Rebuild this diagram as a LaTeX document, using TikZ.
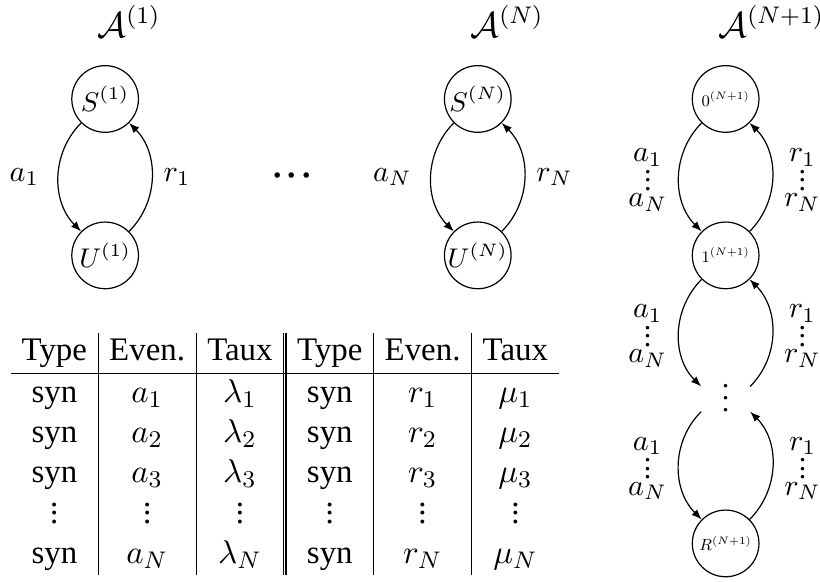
\documentclass[tikz,border=0pt]{standalone}
\usepackage[no-math]{fontspec}
\setmainfont{Liberation Serif}
\usepackage{amsfonts,amssymb}
\usepackage{graphicx}
\usepackage{tikz}
\usetikzlibrary{arrows.meta}
\newcommand{\pvdots}{\vbox{\baselineskip2.8pt\lineskiplimit0pt\hbox{.}\hbox{.}\hbox{.}}}
\newcommand{\evlist}[1]{$\begin{array}{@{}c@{}}#1_1\\[-2.5pt]\pvdots\\[-6.5pt]#1_N\end{array}$}

\begin{document}
\begin{tikzpicture}[>={Latex[length=3.4pt,width=2.6pt]},
  etat/.style={circle,draw,minimum size=0.78cm,inner sep=0pt,font=\small},
  titre/.style={anchor=base west,inner sep=0pt,font=\large}]
\useasboundingbox (0,0) rectangle (9.594,6.798);
% automate 1
\node [titre] (t1) at (1.135,6.365) {$\mathcal{A}^{(1)}$};
\node [etat] (s1) at (1.23,5.64) {$S^{(1)}$};
\node [etat] (u1) at (1.23,3.81) {$U^{(1)}$};
\draw [->] (s1) to [bend right=45] node [left=3pt] {$a_1$} (u1);
\draw [->] (u1) to [bend right=45] node [right=0.5pt] {$r_1$} (s1);
\node [font=\LARGE] (pts) at (3.416,4.727) {${\cdot}{\cdot}{\cdot}$};
% automate N
\node [titre] (tn) at (5.499,6.365) {$\mathcal{A}^{(N)}$};
\node [etat] (sn) at (5.59,5.64) {$S^{(N)}$};
\node [etat] (un) at (5.59,3.81) {$U^{(N)}$};
\draw [->] (sn) to [bend right=45] node [left=3pt] {$a_N$} (un);
\draw [->] (un) to [bend right=45] node [right=0.5pt] {$r_N$} (sn);
% automate N+1
\node [titre] (tm) at (8.401,6.365) {$\mathcal{A}^{(N+1)}$};
\node [etat] (e0) at (8.49,5.64) {\scalebox{0.6}{$0^{(N+1)}$}};
\node [etat] (e1) at (8.49,3.81) {\scalebox{0.6}{$1^{(N+1)}$}};
\node [inner sep=0pt,minimum width=0.56cm,text height=8pt,text depth=0pt] (ed) at (8.49,2.129) {$\vdots$};
\node [etat] (er) at (8.49,0.44) {\scalebox{0.6}{$R^{(N+1)}$}};
\draw [->] (e0) to [bend right=45] node [left=0.5pt] {\evlist{a}} (e1);
\draw [->] (e1) to [bend right=45] node [right=0.5pt] {\evlist{r}} (e0);
\draw [->] (e1) to [out=-135,in=135] node [left=0.5pt] {\evlist{a}} (ed.north west);
\draw [->] (ed.north east) to [out=45,in=-45] node [right=0.5pt] {\evlist{r}} (e1);
\draw [->] (ed.south west) to [out=-135,in=135] node [left=0.5pt] {\evlist{a}} (er);
\draw [->] (er) to [out=45,in=-45] node [right=0.5pt] {\evlist{r}} (ed.south east);
% tableau des evenements
\node [anchor=north west,inner sep=0pt] (tab) at (0.117,2.913) {%
\fontsize{10.95}{13.4}\selectfont
\setlength{\tabcolsep}{3.7pt}\setlength{\doublerulesep}{0.8pt}%
\begin{tabular}{c|c|c||c|c|c}
Type & Even. & Taux & Type & Even. & Taux\\ \hline
syn & $a_1$ & $\lambda_1$ & syn & $r_1$ & $\mu_1$\\
syn & $a_2$ & $\lambda_2$ & syn & $r_2$ & $\mu_2$\\
syn & $a_3$ & $\lambda_3$ & syn & $r_3$ & $\mu_3$\\
\pvdots & \pvdots & \pvdots & \pvdots & \pvdots & \pvdots\\
syn & $a_N$ & $\lambda_N$ & syn & $r_N$ & $\mu_N$
\end{tabular}};
\end{tikzpicture}
\end{document}
